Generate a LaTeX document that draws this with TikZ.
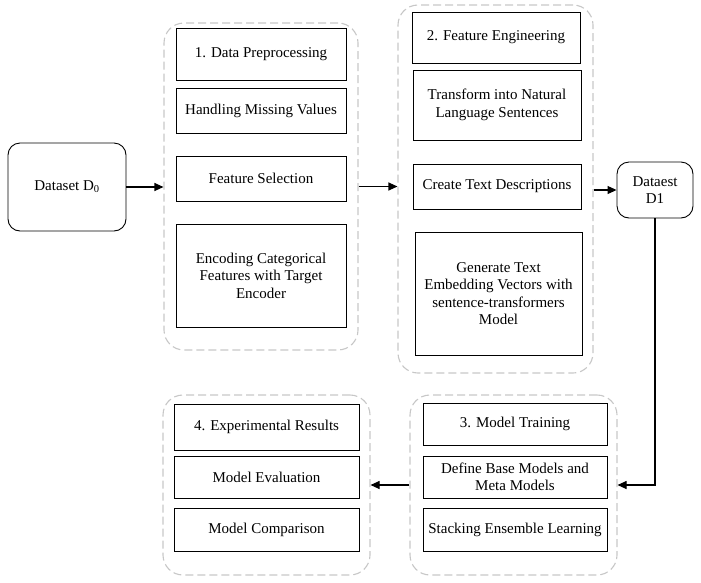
\documentclass[tikz,border=0pt]{standalone}
\usepackage{fontspec}
\setmainfont{Liberation Serif}
\newfontfamily\boxfont{Liberation Serif}
\usetikzlibrary{arrows.meta}

\begin{document}
\begin{tikzpicture}[x=1pt, y=-1pt, font=\boxfont\fontsize{15}{17.5}\selectfont]
\tikzset{every node/.append style={inner sep=0pt, align=center, font=\boxfont\fontsize{15}{17.5}\selectfont}}
\tikzset{stepbox/.style={draw=black, line width=0.9pt}}
\tikzset{databox/.style={draw=black, line width=0.9pt, rounded corners=12pt}}
\tikzset{group/.style={draw=black!22, line width=1.1pt, dash pattern=on 8pt off 4pt, rounded corners=20pt}}
\tikzset{flow/.style={black, line width=1.1pt, -{Triangle[length=9pt,width=8pt]}}}
\useasboundingbox (0,0) rectangle (701,582);
% dashed groups
\node [group, minimum width=194pt, minimum height=327pt] (grp1) at (261,186.5) {};
\node [group, minimum width=195pt, minimum height=368pt] (grp2) at (495.5,189) {};
\node [group, minimum width=207pt, minimum height=180pt] (grp3) at (513.5,485) {};
\node [group, minimum width=207pt, minimum height=180pt] (grp4) at (266.5,485) {};
% data sets
\node [databox, minimum width=118pt, minimum height=88pt] (d0) at (67,187) {Dataset D\textsubscript{0}};
\node [databox, minimum width=76pt, minimum height=56pt] (d1) at (655,190) {Dataest\\D1};
% 1. preprocessing
\node [stepbox, minimum width=170pt, minimum height=52pt] (p1) at (261,54) {1. Data Preprocessing};
\node [stepbox, minimum width=170pt, minimum height=45pt] (p2) at (261,110.5) {Handling Missing Values};
\node [stepbox, minimum width=170pt, minimum height=45pt] (p3) at (261,178.5) {Feature Selection};
\node [stepbox, minimum width=170pt, minimum height=103pt] (p4) at (261,275.5) {Encoding Categorical\\Features with Target\\Encoder};
% 2. feature engineering
\node [stepbox, minimum width=168pt, minimum height=51pt] (f1) at (496,37.5) {2. Feature Engineering};
\node [stepbox, minimum width=168pt, minimum height=70pt] (f2) at (497,105) {Transform into Natural\\Language Sentences};
\node [stepbox, minimum width=168pt, minimum height=45pt] (f3) at (497,186.5) {Create Text Descriptions};
\node [stepbox, minimum width=167pt, minimum height=123pt] (f4) at (498.5,293.5) {Generate Text\\Embedding Vectors with\\sentence-transformers\\Model};
% 3. training
\node [stepbox, minimum width=184pt, minimum height=42pt] (m1) at (515,424) {3. Model Training};
\node [stepbox, minimum width=184pt, minimum height=42pt] (m2) at (515,477) {Define Base Models and\\Meta Models};
\node [stepbox, minimum width=184pt, minimum height=43pt] (m3) at (515,529.5) {Stacking Ensemble Learning};
% 4. results
\node [stepbox, minimum width=185pt, minimum height=46pt] (e1) at (266.5,427) {4. Experimental Results};
\node [stepbox, minimum width=185pt, minimum height=42pt] (e2) at (266.5,477) {Model Evaluation};
\node [stepbox, minimum width=185pt, minimum height=43pt] (e3) at (266.5,529.5) {Model Comparison};
% flow
\draw [flow] (d0.east) -- (grp1.west |- d0.east);
\draw [flow] (grp1.east) -- (grp1.east -| grp2.west);
\draw [flow] (grp2.east |- d1.west) -- (d1.west);
\draw [flow] (d1.south) |- (grp3.east);
\draw [flow] (grp3.west) -- (grp4.east);
\end{tikzpicture}
\end{document}
